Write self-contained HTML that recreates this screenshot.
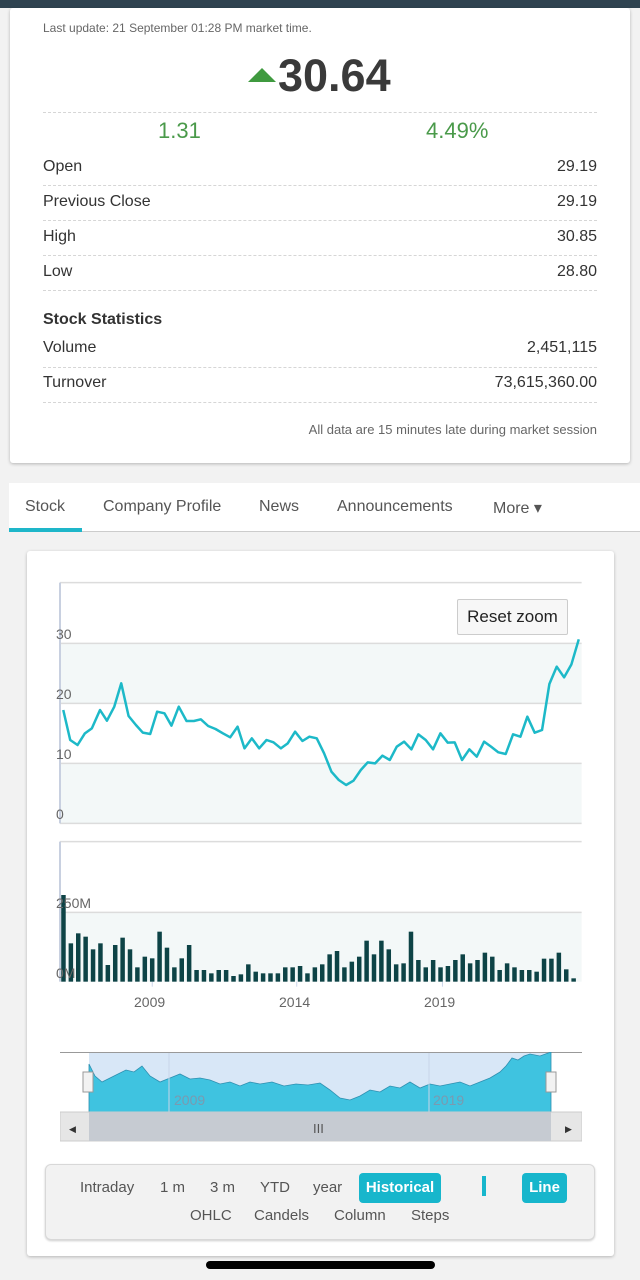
<!DOCTYPE html>
<html><head><meta charset="utf-8"><style>
*{margin:0;padding:0;box-sizing:border-box}
body{width:640px;height:1280px;background:#f2f2f2;font-family:"Liberation Sans",sans-serif;position:relative;overflow:hidden;color:#333}
.a{position:absolute}
.card{position:absolute;background:#fff;box-shadow:0 1px 3px rgba(0,0,0,.25);border-radius:3px}
.dash{position:absolute;left:43px;width:554px;border-top:1px dashed #d6d6d6;height:0}
.l{position:absolute;left:43px;font-size:16px;color:#333}
.r{position:absolute;right:43px;font-size:16px;color:#333}
.tab{position:absolute;top:498px;font-size:16px;color:#555}
.btn{position:absolute;font-size:15px;color:#555}
</style></head><body>
<div class="a" style="left:0;top:0;width:640px;height:8px;background:#2f4350"></div>
<div class="card" style="left:10px;top:8px;width:620px;height:455px"></div>
<div class="a" style="left:43px;top:21px;font-size:12px;color:#666">Last update: 21 September 01:28 PM market time.</div>
<div class="a" style="left:248px;top:68px;width:0;height:0;border-left:14px solid transparent;border-right:14px solid transparent;border-bottom:14px solid #3f9a3f"></div>
<div class="a" style="left:278px;top:50px;font-size:45px;font-weight:bold;color:#3a3a3a">30.64</div>
<div class="dash" style="top:112px"></div>
<div class="a" style="left:158px;top:118px;font-size:22px;color:#4a9a4a">1.31</div>
<div class="a" style="left:426px;top:118px;font-size:22px;color:#4a9a4a">4.49%</div>
<div class="l" style="top:158px">Open</div><div class="r" style="top:158px">29.19</div>
<div class="dash" style="top:185px"></div>
<div class="l" style="top:193px">Previous Close</div><div class="r" style="top:193px">29.19</div>
<div class="dash" style="top:220px"></div>
<div class="l" style="top:228px">High</div><div class="r" style="top:228px">30.85</div>
<div class="dash" style="top:255px"></div>
<div class="l" style="top:263px">Low</div><div class="r" style="top:263px">28.80</div>
<div class="dash" style="top:290px"></div>
<div class="l" style="top:311px;font-weight:bold">Stock Statistics</div>
<div class="l" style="top:339px">Volume</div><div class="r" style="top:339px">2,451,115</div>
<div class="dash" style="top:367px"></div>
<div class="l" style="top:374px">Turnover</div><div class="r" style="top:374px">73,615,360.00</div>
<div class="dash" style="top:402px"></div>
<div class="r" style="top:422px;font-size:13px;color:#666">All data are 15 minutes late during market session</div>

<div class="a" style="left:9px;top:483px;width:631px;height:49px;background:#fff;border-bottom:1px solid #ccc"></div>
<div class="tab" style="left:25px">Stock</div>
<div class="tab" style="left:103px">Company Profile</div>
<div class="tab" style="left:259px">News</div>
<div class="tab" style="left:337px">Announcements</div>
<div class="tab" style="left:493px">More &#9662;</div>
<div class="a" style="left:9px;top:528px;width:73px;height:4px;background:#1eb6c9"></div>

<div class="card" style="left:27px;top:551px;width:587px;height:705px"></div>

<svg class="a" style="left:0;top:560px" width="640" height="460" viewBox="0 0 1568 1380" preserveAspectRatio="none">
<rect x="147" y="250" width="1278" height="180" fill="#f3f8f8"/>
<rect x="147" y="610" width="1278" height="180" fill="#f3f8f8"/>
<rect x="147" y="1057" width="1278" height="208" fill="#f3f8f8"/>
<g stroke="#dcdcdc" stroke-width="1.5">
<line x1="147" y1="68" x2="1425" y2="68" vector-effect="non-scaling-stroke"/>
<line x1="147" y1="250" x2="1425" y2="250" vector-effect="non-scaling-stroke"/>
<line x1="147" y1="430" x2="1425" y2="430" vector-effect="non-scaling-stroke"/>
<line x1="147" y1="610" x2="1425" y2="610" vector-effect="non-scaling-stroke"/>
<line x1="147" y1="790" x2="1425" y2="790" vector-effect="non-scaling-stroke"/>
<line x1="147" y1="845" x2="1425" y2="845" vector-effect="non-scaling-stroke"/>
<line x1="147" y1="1057" x2="1425" y2="1057" vector-effect="non-scaling-stroke"/>
</g>
<line x1="147" y1="68" x2="147" y2="790" stroke="#c8d0e0" stroke-width="2" vector-effect="non-scaling-stroke"/>
<line x1="147" y1="845" x2="147" y2="1265" stroke="#c8d0e0" stroke-width="2" vector-effect="non-scaling-stroke"/>
<g stroke="#ccd6eb"><line x1="373" y1="1265" x2="373" y2="1280" vector-effect="non-scaling-stroke"/><line x1="727" y1="1265" x2="727" y2="1280" vector-effect="non-scaling-stroke"/><line x1="1084" y1="1265" x2="1084" y2="1280" vector-effect="non-scaling-stroke"/></g>
<polyline fill="none" stroke="#1db9c8" stroke-width="2.5" vector-effect="non-scaling-stroke" stroke-linejoin="round" points="155,450 172,540 190,555 208,520 225,505 245,450 262,482 280,440 297,370 315,468 333,495 350,518 368,522 385,455 403,460 420,497 438,440 457,483 475,483 492,478 510,498 528,507 546,520 564,532 582,500 599,565 617,535 635,565 653,540 670,547 688,565 705,550 723,515 741,543 758,530 776,535 794,580 812,635 830,660 848,675 866,662 884,630 901,607 919,610 937,587 955,600 972,560 990,545 1008,568 1025,523 1043,540 1061,568 1079,520 1097,548 1114,547 1132,600 1150,568 1168,590 1186,545 1203,560 1221,577 1239,582 1257,523 1275,530 1292,470 1310,518 1328,510 1346,372 1364,320 1382,352 1400,313 1418,238"/>
<g fill="#0d4346" id="bars"></g>
</svg>
<script>
var t=[1005,1150,1120,1130,1168,1150,1215,1155,1133,1168,1222,1190,1195,1115,1163,1222,1195,1155,1230,1230,1240,1230,1230,1248,1243,1213,1235,1240,1240,1240,1222,1222,1218,1240,1222,1213,1183,1173,1222,1205,1190,1142,1183,1142,1168,1213,1210,1115,1200,1222,1200,1222,1218,1200,1183,1210,1200,1178,1190,1230,1210,1222,1230,1230,1235,1196,1196,1178,1228,1255];
var g=document.getElementById('bars'),s='';
for(var i=0;i<t.length;i++){var x=150+i*(1268/(t.length));s+='<rect x="'+x.toFixed(1)+'" y="'+t[i]+'" width="11" height="'+(1265-t[i])+'"/>';}
g.innerHTML=s;
</script>
<div class="a" style="left:56px;top:626px;font-size:14px;color:#666">30</div>
<div class="a" style="left:56px;top:686px;font-size:14px;color:#666">20</div>
<div class="a" style="left:56px;top:746px;font-size:14px;color:#666">10</div>
<div class="a" style="left:56px;top:806px;font-size:14px;color:#666">0</div>
<div class="a" style="left:56px;top:895px;font-size:14px;color:#666">250M</div>
<div class="a" style="left:56px;top:965px;font-size:14px;color:#666">0M</div>
<div class="a" style="left:134px;top:994px;font-size:14px;color:#666">2009</div>
<div class="a" style="left:279px;top:994px;font-size:14px;color:#666">2014</div>
<div class="a" style="left:424px;top:994px;font-size:14px;color:#666">2019</div>
<div class="a" style="left:457px;top:599px;width:111px;height:36px;background:#f7f7f7;border:1px solid #ccc;border-radius:2px;font-size:17px;color:#222;text-align:center;line-height:34px">Reset zoom</div>

<svg class="a" style="left:60px;top:1052px" width="522" height="90" viewBox="0 0 522 90">
<line x1="0" y1="0.5" x2="522" y2="0.5" stroke="#999"/>
<rect x="29" y="1" width="462" height="59" fill="#d8e7f7"/>
<polygon fill="#3fc3e0" stroke="#2e8fb0" stroke-width="0.8" points="29,60 29,12 35,24 42,30 50,26 58,22 66,18 74,20 82,14 90,24 100,30 110,26 120,22 130,27 140,26 150,28 160,32 170,30 180,34 190,30 200,32 212,30 224,34 236,32 248,33 260,31 270,38 280,46 290,48 300,44 310,38 320,40 330,34 340,36 350,30 360,36 370,32 380,34 390,32 400,30 410,34 420,30 430,26 440,20 446,14 452,6 458,8 464,4 470,2 480,4 491,0 491,60"/>
<line x1="109" y1="1" x2="109" y2="60" stroke="#c8d6e8"/>
<line x1="369" y1="1" x2="369" y2="60" stroke="#c8d6e8"/>
<text x="114" y="53" font-size="14" fill="#7a9ab0" font-family="Liberation Sans">2009</text>
<text x="373" y="53" font-size="14" fill="#7a9ab0" font-family="Liberation Sans">2019</text>
<rect x="23" y="20" width="10" height="20" fill="#f2f2f2" stroke="#999"/>
<rect x="486" y="20" width="10" height="20" fill="#f2f2f2" stroke="#999"/>
<rect x="0" y="60" width="522" height="29" fill="#e6e6e6" stroke="#ccc"/>
<rect x="29" y="60" width="462" height="29" fill="#c6cbd2"/>
<text x="9" y="80" font-size="9" fill="#333">&#9664;</text>
<text x="505" y="80" font-size="9" fill="#333">&#9654;</text>
<text x="253" y="81" font-size="13" fill="#555">III</text>
</svg>

<div class="a" style="left:45px;top:1164px;width:550px;height:76px;background:#f2f2f2;border:1px solid #d8d8d8;border-radius:6px;box-shadow:0 1px 2px rgba(0,0,0,.2)"></div>
<div class="btn" style="left:80px;top:1179px">Intraday</div>
<div class="btn" style="left:160px;top:1179px">1 m</div>
<div class="btn" style="left:210px;top:1179px">3 m</div>
<div class="btn" style="left:260px;top:1179px">YTD</div>
<div class="btn" style="left:313px;top:1179px">year</div>
<div class="a" style="left:359px;top:1173px;width:82px;height:30px;background:#17b6cc;border-radius:4px;color:#fff;font-weight:bold;font-size:15px;text-align:center;line-height:30px">Historical</div>
<div class="a" style="left:482px;top:1176px;width:4px;height:20px;background:#17b6cc"></div>
<div class="a" style="left:522px;top:1173px;width:45px;height:30px;background:#17b6cc;border-radius:4px;color:#fff;font-weight:bold;font-size:15px;text-align:center;line-height:30px">Line</div>
<div class="btn" style="left:190px;top:1207px">OHLC</div>
<div class="btn" style="left:254px;top:1207px">Candels</div>
<div class="btn" style="left:334px;top:1207px">Column</div>
<div class="btn" style="left:411px;top:1207px">Steps</div>
<div class="a" style="left:206px;top:1261px;width:229px;height:8px;background:#000;border-radius:4px"></div>
</body></html>
